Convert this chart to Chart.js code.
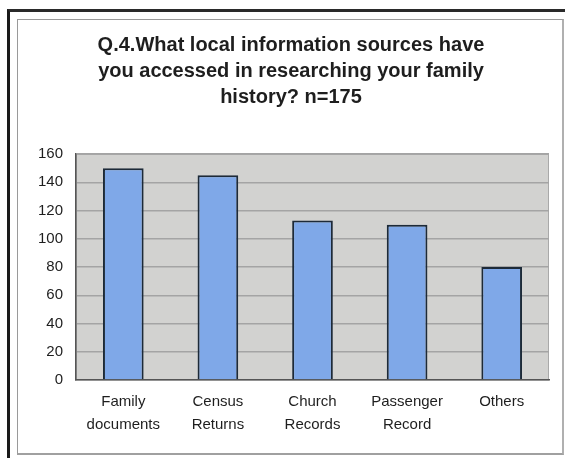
<!DOCTYPE html>
<html>
<head>
<meta charset="utf-8">
<script src="https://cdn.jsdelivr.net/npm/chart.js@4/dist/chart.umd.min.js"></script>
<style>
  html, body { margin: 0; padding: 0; background: #ffffff; }
  body { width: 565px; height: 458px; position: relative; overflow: hidden; }
  #outer { position: absolute; left: 7px; top: 9px; width: 560px; height: 460px;
           border-left: 3px solid #1a1a1a; border-top: 3px solid #2a2a2a; }
  #inner { position: absolute; left: 17px; top: 19px; width: 544px; height: 433px;
           border: 1px solid #9a9a9a; border-right: 2px solid #b0b0b0; border-bottom: 2px solid #a0a0a0; }
  #wrap { position: absolute; left: 0; top: 0; width: 565px; height: 458px; }
</style>
</head>
<body>
<div id="outer"></div>
<div id="inner"></div>
<div id="wrap"><canvas id="c" width="565" height="458"></canvas></div>
<script>
const titleLines = ["Q.4.What local information sources have", "you accessed in researching your family", "history? n=175"];
const categories = [["Family", "documents"], ["Census", "Returns"], ["Church", "Records"], ["Passenger", "Record"], ["Others"]];
const responses = [150, 145, 113, 110, 80];
const yMin = 0;
const yMax = 160;
const yStep = 20;

const plotBg = {
  id: 'plotBg',
  beforeDraw(chart) {
    const a = chart.chartArea;
    const ctx = chart.ctx;
    ctx.save();
    ctx.fillStyle = '#d2d2d0';
    ctx.fillRect(a.left, a.top, a.right - a.left, a.bottom - a.top);
    ctx.strokeStyle = '#a9a9a9';
    ctx.lineWidth = 1;
    ctx.strokeRect(a.left + 0.5, a.top + 0.5, a.right - a.left - 1, a.bottom - a.top - 1);
    ctx.restore();
  }
};

new Chart(document.getElementById('c'), {
  type: 'bar',
  data: {
    labels: categories,
    datasets: [{
      data: responses,
      backgroundColor: '#7fa8e8',
      borderColor: '#1d2a38',
      borderWidth: 2,
      borderSkipped: 'bottom',
      barPercentage: 0.43,
      categoryPercentage: 1.0
    }]
  },
  options: {
    responsive: false,
    animation: false,
    devicePixelRatio: 1,
    layout: { padding: { left: 33, right: 16, top: 0, bottom: 11 } },
    plugins: {
      legend: { display: false },
      tooltip: { enabled: false },
      title: {
        display: true,
        text: titleLines,
        color: '#1e1e1e',
        font: { family: 'Liberation Sans, Arial, sans-serif', size: 20, weight: 'bold', lineHeight: 1.3 },
        padding: { top: 32, bottom: 44 }
      }
    },
    scales: {
      x: {
        grid: { display: false, drawTicks: false },
        border: { display: true, color: '#555555', width: 1.5 },
        ticks: {
          color: '#1e1e1e',
          font: { family: 'Liberation Sans, Arial, sans-serif', size: 15, lineHeight: 1.5 },
          padding: 11,
          maxRotation: 0,
          autoSkip: false
        }
      },
      y: {
        min: yMin,
        max: yMax,
        afterFit(scale) { scale.width = 43; },
        grid: { color: '#a4a4a4', lineWidth: 1.5, drawTicks: false },
        border: { display: true, color: '#555555', width: 1.5 },
        ticks: {
          stepSize: yStep,
          color: '#1e1e1e',
          font: { family: 'Liberation Sans, Arial, sans-serif', size: 15 },
          padding: 13
        }
      }
    }
  },
  plugins: [plotBg]
});
</script>
</body>
</html>
